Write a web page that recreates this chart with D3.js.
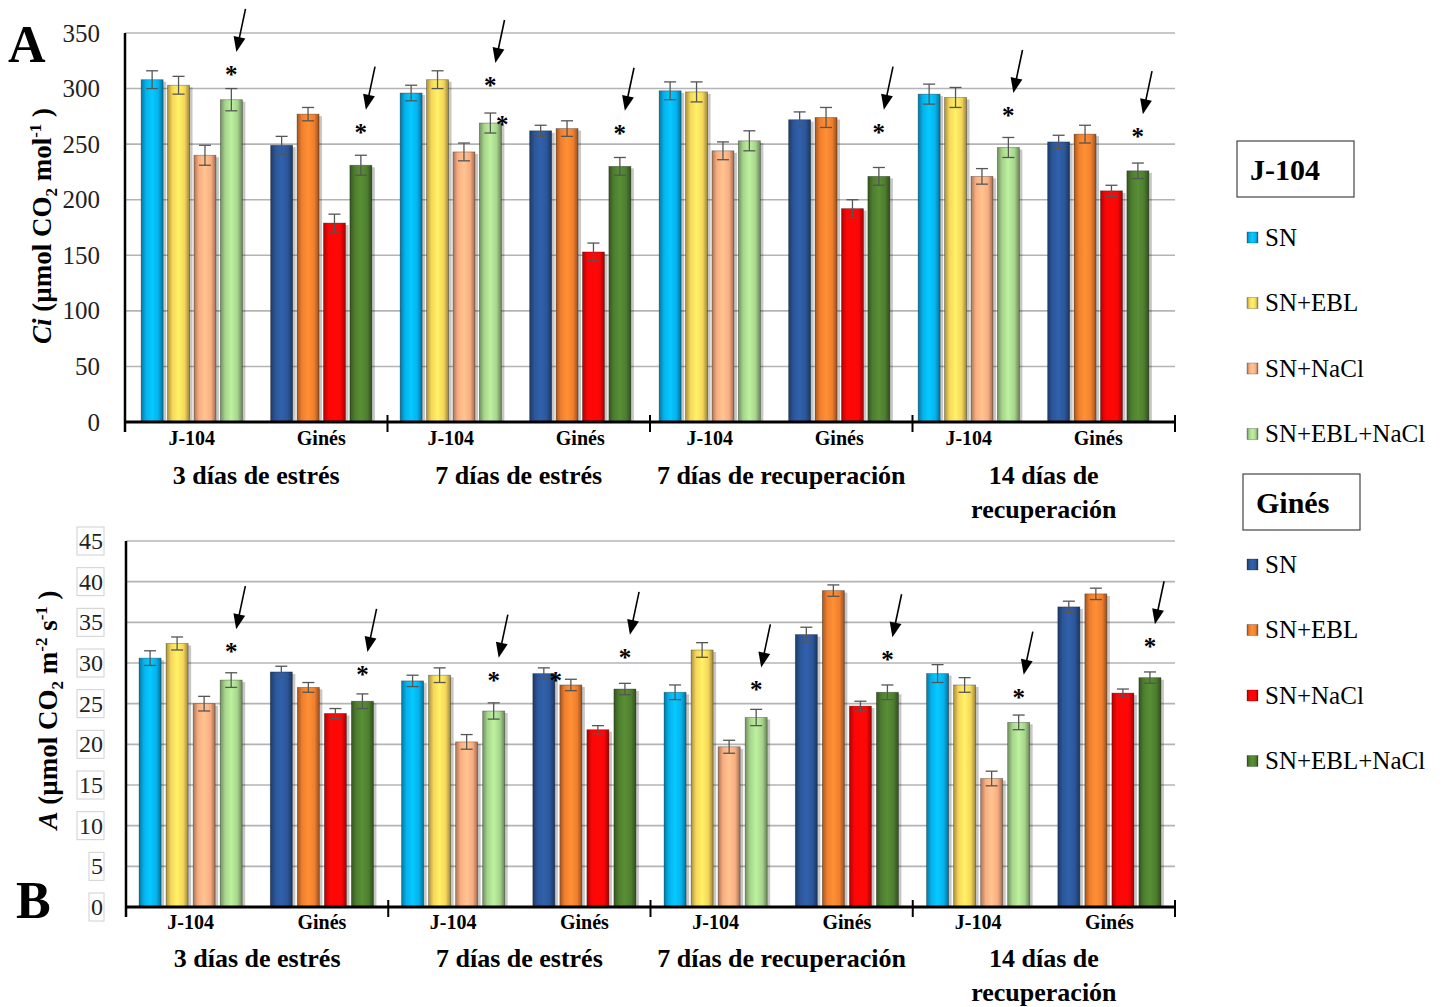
<!DOCTYPE html>
<html>
<head>
<meta charset="utf-8">
<script src="https://cdn.jsdelivr.net/npm/d3@7"></script>
<style>
  body { margin: 0; background: #fff; }
  text { font-family: "Liberation Serif", "Times New Roman", serif; }
</style>
</head>
<body>
<div id="chart"></div>
<script>
// Periods (second line used for the last one)
const periods = [["3 días de estrés"], ["7 días de estrés"], ["7 días de recuperación"], ["14 días de", "recuperación"]];
const cultivars = ["J-104", "Ginés"];
const treatments = ["SN", "SN+EBL", "SN+NaCl", "SN+EBL+NaCl"];
const colorsJ104 = ["#05b2ee", "#f6d65a", "#f8ad80", "#a7d58c"];
const colorsGines = ["#2b5699", "#f07f2e", "#fb0606", "#4e7e2f"];

// Ci (µmol CO2 mol-1): one row per period, SN / SN+EBL / SN+NaCl / SN+EBL+NaCl
const ciJ104 = [[308, 303, 240, 290], [296, 308, 243, 269], [298, 297, 244, 253], [295, 292, 221, 247]];
const ciGines = [[249, 277, 179, 231], [262, 264, 153, 230], [272, 274, 192, 221], [252, 259, 208, 226]];
const ciErrJ104 = [[8, 8, 9, 10], [7, 8, 8, 9], [8, 9, 8, 9], [9, 9, 7, 9]];
const ciErrGines = [[8, 6, 8, 9], [5, 7, 8, 8], [7, 9, 8, 8], [6, 8, 5, 7]];

// A (µmol CO2 m-2 s-1)
const aJ104 = [[30.6, 32.4, 25.0, 27.9], [27.8, 28.5, 20.3, 24.1], [26.4, 31.6, 19.7, 23.3], [28.7, 27.3, 15.8, 22.7]];
const aGines = [[28.9, 27.0, 23.8, 25.3], [28.7, 27.3, 21.8, 26.8], [33.5, 38.9, 24.7, 26.4], [36.9, 38.5, 26.3, 28.2]];
const aErrJ104 = [[0.9, 0.8, 0.9, 0.9], [0.7, 0.9, 0.9, 1.0], [0.9, 0.9, 0.8, 1.0], [1.1, 0.9, 0.9, 0.9]];
const aErrGines = [[0.7, 0.6, 0.6, 0.9], [0.7, 0.7, 0.5, 0.7], [0.9, 0.7, 0.6, 0.9], [0.7, 0.7, 0.5, 0.7]];

// Significance marks: [period, cultivar, treatment, height of the asterisk]
const ciStars = [[0, "J-104", 3, 315], [0, "Ginés", 3, 263], [1, "J-104", 3, 305], [1, "Ginés", 3, 262],
                 [2, "Ginés", 3, 263], [3, "J-104", 3, 278], [3, "Ginés", 3, 259]];
const ciSideStars = [[1, "J-104", 3, 270]];
const aStars = [[0, "J-104", 3, 31.7], [0, "Ginés", 3, 28.9], [1, "J-104", 3, 28.2], [1, "Ginés", 3, 31.0],
                [2, "J-104", 3, 27.0], [2, "Ginés", 3, 30.7], [3, "J-104", 3, 26.1], [3, "Ginés", 3, 32.3]];
const aSideStars = [[1, "Ginés", 0, 28.2]];

const W = 1447, H = 1007;
const svg = d3.select("#chart").append("svg")
  .attr("width", W).attr("height", H);

// 3D-looking gradients for the bars
const defs = svg.append("defs");
const allColors = colorsJ104.concat(colorsGines);
allColors.forEach((c, i) => {
  const g = defs.append("linearGradient").attr("id", "grad" + i)
    .attr("x1", "0%").attr("x2", "100%").attr("y1", "0%").attr("y2", "0%");
  g.append("stop").attr("offset", "0%").attr("stop-color", d3.color(c).darker(1.1));
  g.append("stop").attr("offset", "22%").attr("stop-color", c);
  g.append("stop").attr("offset", "50%").attr("stop-color", d3.color(c).brighter(0.35));
  g.append("stop").attr("offset", "78%").attr("stop-color", c);
  g.append("stop").attr("offset", "100%").attr("stop-color", d3.color(c).darker(1.3));
});
function fillFor(cult, ti) {
  return "url(#grad" + (cult === "J-104" ? ti : ti + 4) + ")";
}

function drawPanel(p) {
  const g = svg.append("g");
  const keys = [];
  periods.forEach((per, pi) => cultivars.forEach(c => keys.push(pi + "|" + c)));

  const y = d3.scaleLinear().domain([0, p.yMax]).range([p.bottom, p.top]);
  const xPeriod = d3.scaleBand().domain(d3.range(periods.length)).range([p.left, p.right]);
  const xCat = d3.scaleBand().domain(keys).range(p.barRange);
  const xTreat = d3.scaleBand().domain(d3.range(4)).range([0, xCat.bandwidth()])
    .paddingInner(p.padIn).paddingOuter(p.padOut);

  // grid
  const ticks = d3.range(0, p.yMax + 0.001, p.yStep);
  g.append("g").selectAll("line").data(ticks.filter(t => t > 0)).join("line")
    .attr("x1", p.left).attr("x2", p.right)
    .attr("y1", d => y(d)).attr("y2", d => y(d))
    .attr("stroke", "#b4b4b4").attr("stroke-width", 1.6);

  // y tick labels
  const tl = g.append("g").selectAll("g").data(ticks).join("g");
  tl.append("text")
    .attr("x", p.labelX).attr("y", d => y(d))
    .attr("text-anchor", "end").attr("dominant-baseline", "central")
    .attr("font-size", p.tickSize).attr("fill", "#222")
    .text(d => d);
  if (p.boxedTicks) {
    tl.each(function() {
      const t = d3.select(this).select("text");
      const b = t.node().getBBox();
      d3.select(this).insert("rect", "text")
        .attr("x", b.x - 2).attr("y", b.y - 1)
        .attr("width", b.width + 3).attr("height", b.height + 2)
        .attr("fill", "none").attr("stroke", "#d0d0d0").attr("stroke-width", 1);
    });
  }

  // bars
  const rows = [];
  periods.forEach((per, pi) => cultivars.forEach(c => {
    const vals = c === "J-104" ? p.j104[pi] : p.gines[pi];
    const errs = c === "J-104" ? p.errJ104[pi] : p.errGines[pi];
    vals.forEach((v, ti) => rows.push({ key: pi + "|" + c, c, ti, v, e: errs[ti] }));
  }));
  const bx = d => xCat(d.key) + xTreat(d.ti);
  const bw = xTreat.bandwidth();

  g.append("g").selectAll("rect").data(rows).join("rect")
    .attr("x", d => bx(d) + 3).attr("y", d => y(d.v) + 2)
    .attr("width", bw).attr("height", d => y(0) - y(d.v) - 2)
    .attr("fill", "#000").attr("opacity", 0.22);
  g.append("g").selectAll("rect").data(rows).join("rect")
    .attr("x", bx).attr("y", d => y(d.v))
    .attr("width", bw).attr("height", d => y(0) - y(d.v))
    .attr("fill", d => fillFor(d.c, d.ti))
    .attr("stroke", "rgba(0,0,0,0.35)").attr("stroke-width", 0.8);

  // error bars
  const eb = g.append("g").attr("stroke", "#555").attr("stroke-width", 1.3);
  eb.selectAll("line.v").data(rows).join("line").attr("class", "v")
    .attr("x1", d => bx(d) + bw / 2).attr("x2", d => bx(d) + bw / 2)
    .attr("y1", d => y(d.v + d.e)).attr("y2", d => y(d.v - d.e));
  eb.selectAll("line.t").data(rows).join("line").attr("class", "t")
    .attr("x1", d => bx(d) + bw / 2 - 6).attr("x2", d => bx(d) + bw / 2 + 6)
    .attr("y1", d => y(d.v + d.e)).attr("y2", d => y(d.v + d.e));
  eb.selectAll("line.b").data(rows).join("line").attr("class", "b")
    .attr("x1", d => bx(d) + bw / 2 - 6).attr("x2", d => bx(d) + bw / 2 + 6)
    .attr("y1", d => y(d.v - d.e)).attr("y2", d => y(d.v - d.e));

  // asterisks and arrows
  const sx = s => xCat(s[0] + "|" + s[1]) + xTreat(s[2]) + bw / 2;
  g.append("g").selectAll("text").data(p.stars).join("text")
    .attr("x", sx).attr("y", s => y(s[3]) + 11)
    .attr("text-anchor", "middle").attr("font-size", 25).attr("font-weight", "bold")
    .text("*");
  g.append("g").selectAll("text").data(p.sideStars).join("text")
    .attr("x", s => sx(s) + bw / 2 + 1).attr("y", s => y(s[3]) + 11)
    .attr("text-anchor", "middle").attr("font-size", 25).attr("font-weight", "bold")
    .text("*");
  const ar = g.append("g").selectAll("g").data(p.stars).join("g")
    .attr("transform", s => "translate(" + (sx(s) + 5) + "," + (y(s[3]) - 20) + ") rotate(12)");
  ar.append("line").attr("x1", 0).attr("x2", 0).attr("y1", -44).attr("y2", -10)
    .attr("stroke", "#000").attr("stroke-width", 1.6);
  ar.append("path").attr("d", "M0,0 L-6,-15 L6,-15 Z").attr("fill", "#000");

  // axes
  g.append("line").attr("x1", p.left).attr("x2", p.left)
    .attr("y1", p.top).attr("y2", p.bottom + 10)
    .attr("stroke", "#000").attr("stroke-width", 2.5);
  g.append("line").attr("x1", p.left).attr("x2", p.right)
    .attr("y1", p.bottom).attr("y2", p.bottom)
    .attr("stroke", "#000").attr("stroke-width", 3);
  g.append("g").selectAll("line").data(d3.range(1, periods.length + 1)).join("line")
    .attr("x1", i => xPeriod.step() * i + p.left).attr("x2", i => xPeriod.step() * i + p.left)
    .attr("y1", p.bottom - 7).attr("y2", p.bottom + 10)
    .attr("stroke", "#000").attr("stroke-width", 2);

  // category labels
  g.append("g").selectAll("text").data(keys).join("text")
    .attr("x", k => xCat(k) + xCat.bandwidth() / 2).attr("y", p.catY)
    .attr("text-anchor", "middle").attr("font-size", 20).attr("font-weight", "bold")
    .text(k => k.split("|")[1]);
  const pl = g.append("g").selectAll("text").data(periods).join("text")
    .attr("x", (d, i) => xPeriod(i) + xPeriod.bandwidth() / 2).attr("y", p.periodY)
    .attr("text-anchor", "middle").attr("font-size", 26).attr("font-weight", "bold");
  pl.selectAll("tspan").data(d => d).join("tspan")
    .attr("x", function() { return d3.select(this.parentNode).attr("x"); })
    .attr("dy", (d, i) => i === 0 ? 0 : 34)
    .text(d => d);

  // y title
  const yt = g.append("text")
    .attr("transform", "translate(" + p.titleX + "," + p.titleY + ") rotate(-90)")
    .attr("text-anchor", "middle").attr("font-size", 27).attr("font-weight", "bold");
  p.title.forEach(part => {
    yt.append("tspan")
      .attr("font-style", part.italic ? "italic" : null)
      .attr("font-size", part.small ? 17 : null)
      .attr("dy", part.dy || 0)
      .text(part.t);
  });

  // panel letter
  g.append("text").attr("x", p.letterX).attr("y", p.letterY)
    .attr("font-size", 52).attr("font-weight", "bold").text(p.letter);
}

drawPanel({
  top: 33, bottom: 422, left: 125, right: 1175, yMax: 350, yStep: 50,
  barRange: [127, 1163], padIn: 0.167, padOut: 0.535,
  labelX: 100, tickSize: 25, boxedTicks: false,
  j104: ciJ104, gines: ciGines, errJ104: ciErrJ104, errGines: ciErrGines,
  stars: ciStars, sideStars: ciSideStars,
  catY: 445, periodY: 484,
  titleX: 51, titleY: 226,
  title: [{ t: "Ci", italic: true }, { t: " (µmol CO" }, { t: "2", small: true, dy: 6 },
          { t: " mol", dy: -6 }, { t: "-1", small: true, dy: -10 }, { t: " )", dy: 10 }],
  letter: "A", letterX: 8, letterY: 62
});

drawPanel({
  top: 541, bottom: 907, left: 126, right: 1175, yMax: 45, yStep: 5,
  barRange: [125, 1175], padIn: 0.185, padOut: 0.52,
  labelX: 103, tickSize: 24, boxedTicks: true,
  j104: aJ104, gines: aGines, errJ104: aErrJ104, errGines: aErrGines,
  stars: aStars, sideStars: aSideStars,
  catY: 929, periodY: 967,
  titleX: 57, titleY: 710,
  title: [{ t: "A", italic: true }, { t: " (µmol CO" }, { t: "2", small: true, dy: 6 },
          { t: " m", dy: -6 }, { t: "-2", small: true, dy: -10 }, { t: " s", dy: 10 },
          { t: "-1", small: true, dy: -10 }, { t: " )", dy: 10 }],
  letter: "B", letterX: 16, letterY: 918
});

// legend
const legendBlocks = [
  { title: "J-104", colors: colorsJ104, box: [1237, 141], itemY: 237, grad: 0 },
  { title: "Ginés", colors: colorsGines, box: [1243, 474], itemY: 564, grad: 4 }
];
legendBlocks.forEach(b => {
  const lg = svg.append("g");
  lg.append("rect").attr("x", b.box[0]).attr("y", b.box[1])
    .attr("width", 117).attr("height", 56)
    .attr("fill", "#fff").attr("stroke", "#444").attr("stroke-width", 1.2);
  lg.append("text").attr("x", b.box[0] + 13).attr("y", b.box[1] + 39)
    .attr("font-size", 30).attr("font-weight", "bold").text(b.title);
  const it = lg.selectAll("g").data(treatments).join("g")
    .attr("transform", (d, i) => "translate(1247," + (b.itemY + i * 65.5) + ")");
  it.append("rect").attr("x", 0).attr("y", -5).attr("width", 11).attr("height", 11)
    .attr("fill", (d, i) => "url(#grad" + (b.grad + i) + ")")
    .attr("stroke", "rgba(0,0,0,0.4)").attr("stroke-width", 0.6);
  it.append("text").attr("x", 18).attr("y", 0).attr("dominant-baseline", "central")
    .attr("font-size", 25).text(d => d);
});
</script>
</body>
</html>
